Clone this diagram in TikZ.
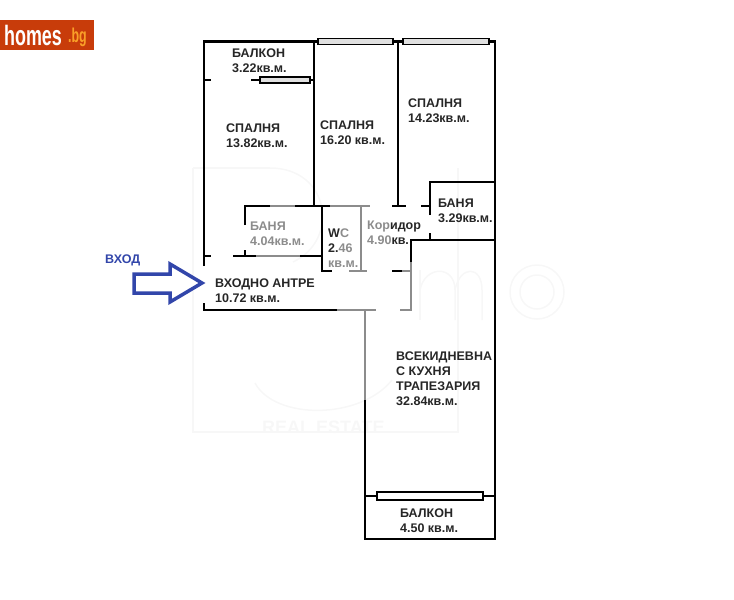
\documentclass[tikz,border=0pt]{standalone}
\usepackage{fontspec}
\setmainfont{Liberation Sans}
\usepackage{tikz}
\usetikzlibrary{calc,positioning}
\definecolor{logored}{RGB}{200,60,10}
\definecolor{logoorange}{RGB}{250,160,40}
\definecolor{arrowblue}{RGB}{50,70,170}
\definecolor{wallgray}{RGB}{140,140,140}
\definecolor{markgray}{RGB}{247,247,247}

\begin{document}
\begin{tikzpicture}[x=1pt,y=-1pt,
    wall/.style={draw=black,line width=2.2pt},
    fadedwall/.style={draw=wallgray,line width=2.2pt},
    window/.style={draw=black,fill=black!12,line width=1.2pt},
    roomlabel/.style={anchor=north west,align=left,inner sep=0pt,font=\bfseries\fontsize{12.5}{15}\selectfont,text=black!85},
    fadedlabel/.style={roomlabel,text=wallgray}]
   \useasboundingbox (0,0) rectangle (734,600);
   % logo
   \fill[logored] (0,20) rectangle (94,50);
   \node (homes) [anchor=west,inner sep=0pt,text=white,font=\bfseries\fontsize{28}{28}\selectfont,xscale=0.64] at (4,35) {homes};
   \node (bg) [anchor=west,inner sep=0pt,text=logoorange,font=\bfseries\fontsize{20}{20}\selectfont,xscale=0.62] at (68,37) {.bg};
   % watermark
   \begin{scope}[draw=markgray,line width=1.5pt]
    \draw (193,168) -- (193,432) -- (458,432) -- (458,168);
    \draw (193,168) -- (270,168);
    \draw (255,383) .. controls (275,420) and (360,420) .. (392,380);
    \draw (270,168) .. controls (330,168) and (340,240) .. (293,262);
    \draw (420,320) -- (420,270);
    \draw (420,290) .. controls (425,265) and (455,265) .. (455,290) -- (455,320);
    \draw (455,290) .. controls (460,265) and (482,265) .. (482,290) -- (482,320);
    \draw (537,292) circle[radius=27];
    \draw (537,292) circle[radius=17];
   \end{scope}
   \node (mark) [anchor=west,inner sep=0pt,text=markgray,font=\bfseries\fontsize{18}{18}\selectfont] at (262,427) {REAL ESTATE};
   % outer walls
   \draw[wall] (204,266) -- (204,41.5) -- (495,41.5) -- (495,539) -- (365,539) -- (365,400);
   \draw[fadedwall] (365,400) -- (365,310);
   \draw[wall] (204,303) -- (204,310) -- (337,310);
   \draw[fadedwall] (337,310) -- (376,310);
   \draw[fadedwall] (400,310) -- (411,310) -- (411,262);
   % balcony and bedrooms
   \draw[wall] (204,80) -- (211,80);
   \draw[wall] (251,80) -- (314,80);
   \draw[wall] (314,41.5) -- (314,206);
   \draw[wall] (398,41.5) -- (398,206);
   \draw[wall] (392,206) -- (406,206);
   % bathrooms
   \draw[wall] (245,225) -- (245,206) -- (270,206);
   \draw[fadedwall] (270,206) -- (295,206);
   \draw[wall] (295,206) -- (330,206);
   \draw[fadedwall] (330,206) -- (370,206);
   \draw[wall] (245,250) -- (245,256);
   \draw[wall] (204,256) -- (211,256);
   \draw[wall] (233,256) -- (256,256);
   \draw[fadedwall] (256,256) -- (300,256);
   \draw[wall] (300,256) -- (322,256);
   \draw[wall] (322,206) -- (322,271) -- (332,271);
   \draw[fadedwall] (349,271) -- (367,271);
   \draw[fadedwall] (361,206) -- (361,271);
   \draw[wall] (430,215) -- (430,182) -- (495,182);
   \draw[wall] (421,206) -- (430,206);
   \draw[wall] (430,233) -- (430,240);
   \draw[wall] (411,262) -- (411,240) -- (495,240);
   \draw[wall] (392,271) -- (402,271);
   \draw[fadedwall] (402,271) -- (411,271);
   \draw[wall] (365,496) -- (495,496);
   % windows
   \draw[window] (318,38.5) rectangle (393,44.5);
   \draw[window] (403,38.5) rectangle (489,44.5);
   \draw[window] (260,77) rectangle (310,83);
   \draw[window,fill=white] (377,492) rectangle (483,500);
   % rooms
   \node (balcony1) [roomlabel] at (232,49) {БАЛКОН\\3.22кв.м.};
   \node (bedroom1) [roomlabel] at (226,124) {СПАЛНЯ\\13.82кв.м.};
   \node (bedroom2) [roomlabel] at (320,121) {СПАЛНЯ\\16.20 кв.м.};
   \node (bedroom3) [roomlabel] at (408,99) {СПАЛНЯ\\14.23кв.м.};
   \node (bath1) [fadedlabel] at (250,222) {БАНЯ\\4.04кв.м.};
   \node (wc) [roomlabel] at (328,229) {W\textcolor{wallgray}{C}\\2.\textcolor{wallgray}{46}\\\textcolor{wallgray}{кв.м.}};
   \node (corridor) [roomlabel] at (367,221) {\textcolor{wallgray}{Кор}идор\\\textcolor{wallgray}{4.90}кв.};
   \node (bath2) [roomlabel] at (438,199) {БАНЯ\\3.29кв.м.};
   \node (hall) [roomlabel] at (215,279) {ВХОДНО АНТРЕ\\10.72 кв.м.};
   \node (living) [roomlabel] at (396,352) {ВСЕКИДНЕВНА\\С КУХНЯ\\ТРАПЕЗАРИЯ\\32.84кв.м.};
   \node (balcony2) [roomlabel] at (400,509) {БАЛКОН\\4.50 кв.м.};
   % entrance
   \node (entry) [anchor=north west,inner sep=0pt,text=arrowblue,font=\bfseries\fontsize{12.5}{12.5}\selectfont] at (105,255) {ВХОД};
   \draw[draw=arrowblue,fill=white,line width=3.5pt,line join=miter] (134,274) -- (170,274) -- (170,264) -- (202,283) -- (170,302) -- (170,293) -- (134,293) -- cycle;
\end{tikzpicture}
\end{document}
